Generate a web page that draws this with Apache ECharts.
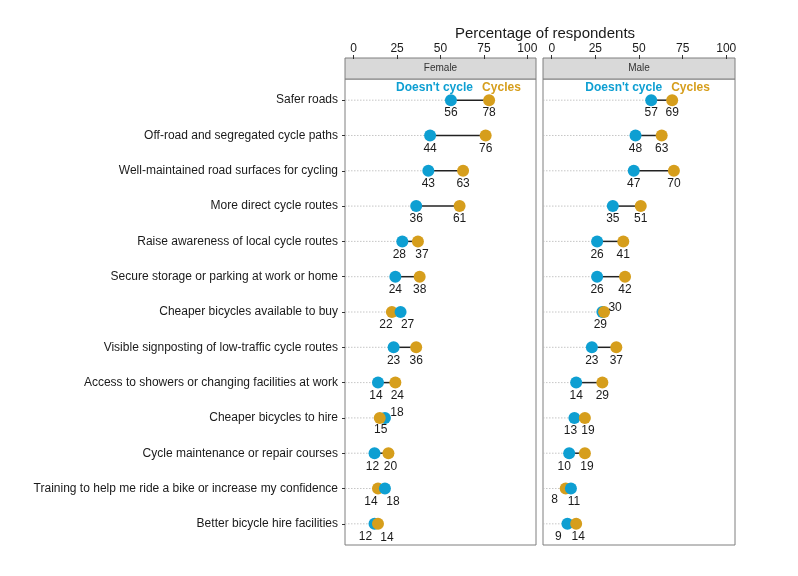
<!DOCTYPE html>
<html>
<head>
<meta charset="utf-8">
<script src="https://cdn.jsdelivr.net/npm/echarts@6/dist/echarts.min.js"></script>
<style>
  html, body { margin: 0; padding: 0; background: #fff; }
  #chart { width: 798px; height: 576px; }
</style>
</head>
<body>
<div id="chart"></div>
<script>
// measures, top to bottom
const measures = [
  'Safer roads',
  'Off-road and segregated cycle paths',
  'Well-maintained road surfaces for cycling',
  'More direct cycle routes',
  'Raise awareness of local cycle routes',
  'Secure storage or parking at work or home',
  'Cheaper bicycles available to buy',
  'Visible signposting of low-traffic cycle routes',
  'Access to showers or changing facilities at work',
  'Cheaper bicycles to hire',
  'Cycle maintenance or repair courses',
  'Training to help me ride a bike or increase my confidence',
  'Better bicycle hire facilities'
]
const panels = ['Female', 'Male']
const femaleNoCycle = [56, 44, 43, 36, 28, 24, 27, 23, 14, 18, 12, 18, 12]
const femaleCycles = [78, 76, 63, 61, 37, 38, 22, 36, 24, 15, 20, 14, 14]
const maleNoCycle = [57, 48, 47, 35, 26, 26, 29, 23, 14, 13, 10, 11, 9]
const maleCycles = [69, 63, 70, 51, 41, 42, 30, 37, 29, 19, 19, 8, 14]

const BLUE = '#0e9fd2'
const ORANGE = '#d69e1c'

// label nudges (repel-like), per panel/row: b = doesn't cycle, o = cycles
const nudges = [
  {
    4: { b: [-3, 0], o: [4, 0] },
    6: { b: [7, 0], o: [-6, 0], blueTop: true },
    8: { b: [-2, 0], o: [2, 0] },
    9: { b: [12, -18], o: [1, -1] },
    10: { b: [-2, 0], o: [2, 0] },
    11: { b: [8, 0], o: [-7, 0], blueTop: true },
    12: { b: [-9, 0], o: [9, 1] }
  },
  {
    6: { b: [-2, 0], o: [11, -17] },
    9: { b: [-4, 0], o: [3, 0] },
    10: { b: [-5, 0], o: [2, 0] },
    11: { b: [3, 0], o: [-11, -2], blueTop: true },
    12: { b: [-9, 0], o: [2, 0] }
  }
]
const keyText = [
  { b: 22, o: -7 },
  { b: 11, o: -1 }
]

const chart = echarts.init(document.getElementById('chart'))
const FONT = 'Liberation Sans, Arial, sans-serif'

// panel frames (ggplot-style 5% / 0.6 expansion) and inner data areas
const PANEL_TOP = 79, PANEL_H = 466, STRIP_TOP = 58
const frames = [
  { left: 345, width: 191 },
  { left: 543, width: 192 }
]
const inner = frames.map(f => ({
  left: f.left + f.width * 5 / 110,
  width: f.width * 100 / 110,
  top: PANEL_TOP + PANEL_H * 0.6 / 13.2,
  height: PANEL_H * 12 / 13.2
}))

function makeRender(p) {
  return function (params, api) {
    const i = api.value(0)
    const bv = api.value(1)
    const ov = api.value(2)
    const pb = api.coord([bv, i])
    const po = api.coord([ov, i])
    const edge = api.coord([-5, i])
    const lo = Math.min(pb[0], po[0])
    const y = pb[1]
    const nd = nudges[p][i] || {}
    const nb = nd.b || [0, 0]
    const no = nd.o || [0, 0]
    const children = [
      {
        type: 'line',
        shape: { x1: edge[0], y1: y, x2: lo, y2: y },
        style: { stroke: '#b8b8b8', lineWidth: 0.8, lineDash: [1.5, 1.5] }
      },
      {
        type: 'line',
        shape: { x1: pb[0], y1: y, x2: po[0], y2: y },
        style: { stroke: '#222', lineWidth: 1.5 }
      }
    ]
    const blueDot = { type: 'circle', shape: { cx: pb[0], cy: y, r: 6 }, style: { fill: BLUE } }
    const orangeDot = { type: 'circle', shape: { cx: po[0], cy: y, r: 6 }, style: { fill: ORANGE } }
    if (nd.blueTop) children.push(orangeDot, blueDot)
    else children.push(blueDot, orangeDot)
    const lbl = (x, yy, txt) => ({
      type: 'text',
      style: {
        x: x, y: yy, text: String(txt), fill: '#1a1a1a',
        font: '12px ' + FONT, align: 'center', verticalAlign: 'middle'
      }
    })
    children.push(lbl(pb[0] + nb[0], y + 13 + nb[1], bv))
    children.push(lbl(po[0] + no[0], y + 13 + no[1], ov))
    if (i === 0) {
      children.push({
        type: 'text',
        style: {
          x: pb[0] + keyText[p].b, y: y - 12, text: "Doesn't cycle", fill: BLUE,
          font: 'bold 12px ' + FONT, align: 'right', verticalAlign: 'middle'
        }
      })
      children.push({
        type: 'text',
        style: {
          x: po[0] + keyText[p].o, y: y - 12, text: 'Cycles', fill: ORANGE,
          font: 'bold 12px ' + FONT, align: 'left', verticalAlign: 'middle'
        }
      })
    }
    return { type: 'group', children: children }
  }
}

const idx = measures.map((m, i) => i)
const seriesData = [
  idx.map(i => [i, femaleNoCycle[i], femaleCycles[i]]),
  idx.map(i => [i, maleNoCycle[i], maleCycles[i]])
]

const hidden = (p, min, max, inverse) => ({
  type: 'value', gridIndex: p, show: false, min: min, max: max, inverse: !!inverse
})

// grids: 0-1 frames, 2-3 data areas, 4-5 top tick strips, 6 left label strip
const option = {
  animation: false,
  backgroundColor: '#fff',
  title: {
    text: 'Percentage of respondents',
    left: 540,
    top: 21,
    textAlign: 'center',
    textStyle: { fontFamily: FONT, fontSize: 15, fontWeight: 'normal', color: '#1a1a1a' }
  },
  grid: [
    ...frames.map(f => ({
      left: f.left, width: f.width, top: PANEL_TOP, height: PANEL_H,
      show: true, borderColor: '#7f7f7f', borderWidth: 1, backgroundColor: '#fff'
    })),
    ...inner.map(g => ({ ...g, show: false })),
    ...inner.map(g => ({ left: g.left, width: g.width, top: STRIP_TOP, height: 1, show: false })),
    { left: frames[0].left, width: 1, top: inner[0].top, height: inner[0].height, show: false }
  ],
  xAxis: [
    hidden(0, 0, 1), hidden(1, 0, 1),
    hidden(2, 0, 100), hidden(3, 0, 100),
    ...[4, 5].map(gi => ({
      type: 'value',
      gridIndex: gi,
      position: 'top',
      min: 0,
      max: 100,
      interval: 25,
      splitLine: { show: false },
      axisLine: { show: false },
      axisTick: { show: true, length: 4, lineStyle: { color: '#333' } },
      axisLabel: { margin: 3, color: '#1a1a1a', fontFamily: FONT, fontSize: 12 }
    })),
    hidden(6, 0, 1)
  ],
  yAxis: [
    hidden(0, 0, 1), hidden(1, 0, 1),
    hidden(2, 0, 12, true), hidden(3, 0, 12, true),
    hidden(4, 0, 1), hidden(5, 0, 1),
    {
      type: 'value',
      gridIndex: 6,
      position: 'left',
      min: 0,
      max: 12,
      interval: 1,
      inverse: true,
      splitLine: { show: false },
      axisLine: { show: false },
      axisTick: { show: true, length: 3, lineStyle: { color: '#333' } },
      axisLabel: {
        margin: 7,
        color: '#1a1a1a',
        fontFamily: FONT,
        fontSize: 12,
        formatter: v => measures[Math.round(v)] || ''
      }
    }
  ],
  graphic: frames.flatMap((g, p) => [
    {
      type: 'rect',
      shape: { x: g.left, y: STRIP_TOP, width: g.width, height: PANEL_TOP - STRIP_TOP },
      style: { fill: '#d9d9d9', stroke: '#7f7f7f', lineWidth: 1 }
    },
    {
      type: 'text',
      x: g.left + g.width / 2,
      y: (STRIP_TOP + PANEL_TOP) / 2,
      style: {
        text: panels[p], fill: '#333', font: '10px ' + FONT,
        align: 'center', verticalAlign: 'middle'
      }
    }
  ]),
  series: seriesData.map((d, p) => ({
    type: 'custom',
    xAxisIndex: p + 2,
    yAxisIndex: p + 2,
    clip: false,
    encode: { x: [1, 2], y: 0 },
    renderItem: makeRender(p),
    data: d
  }))
}

chart.setOption(option)
</script>
</body>
</html>
